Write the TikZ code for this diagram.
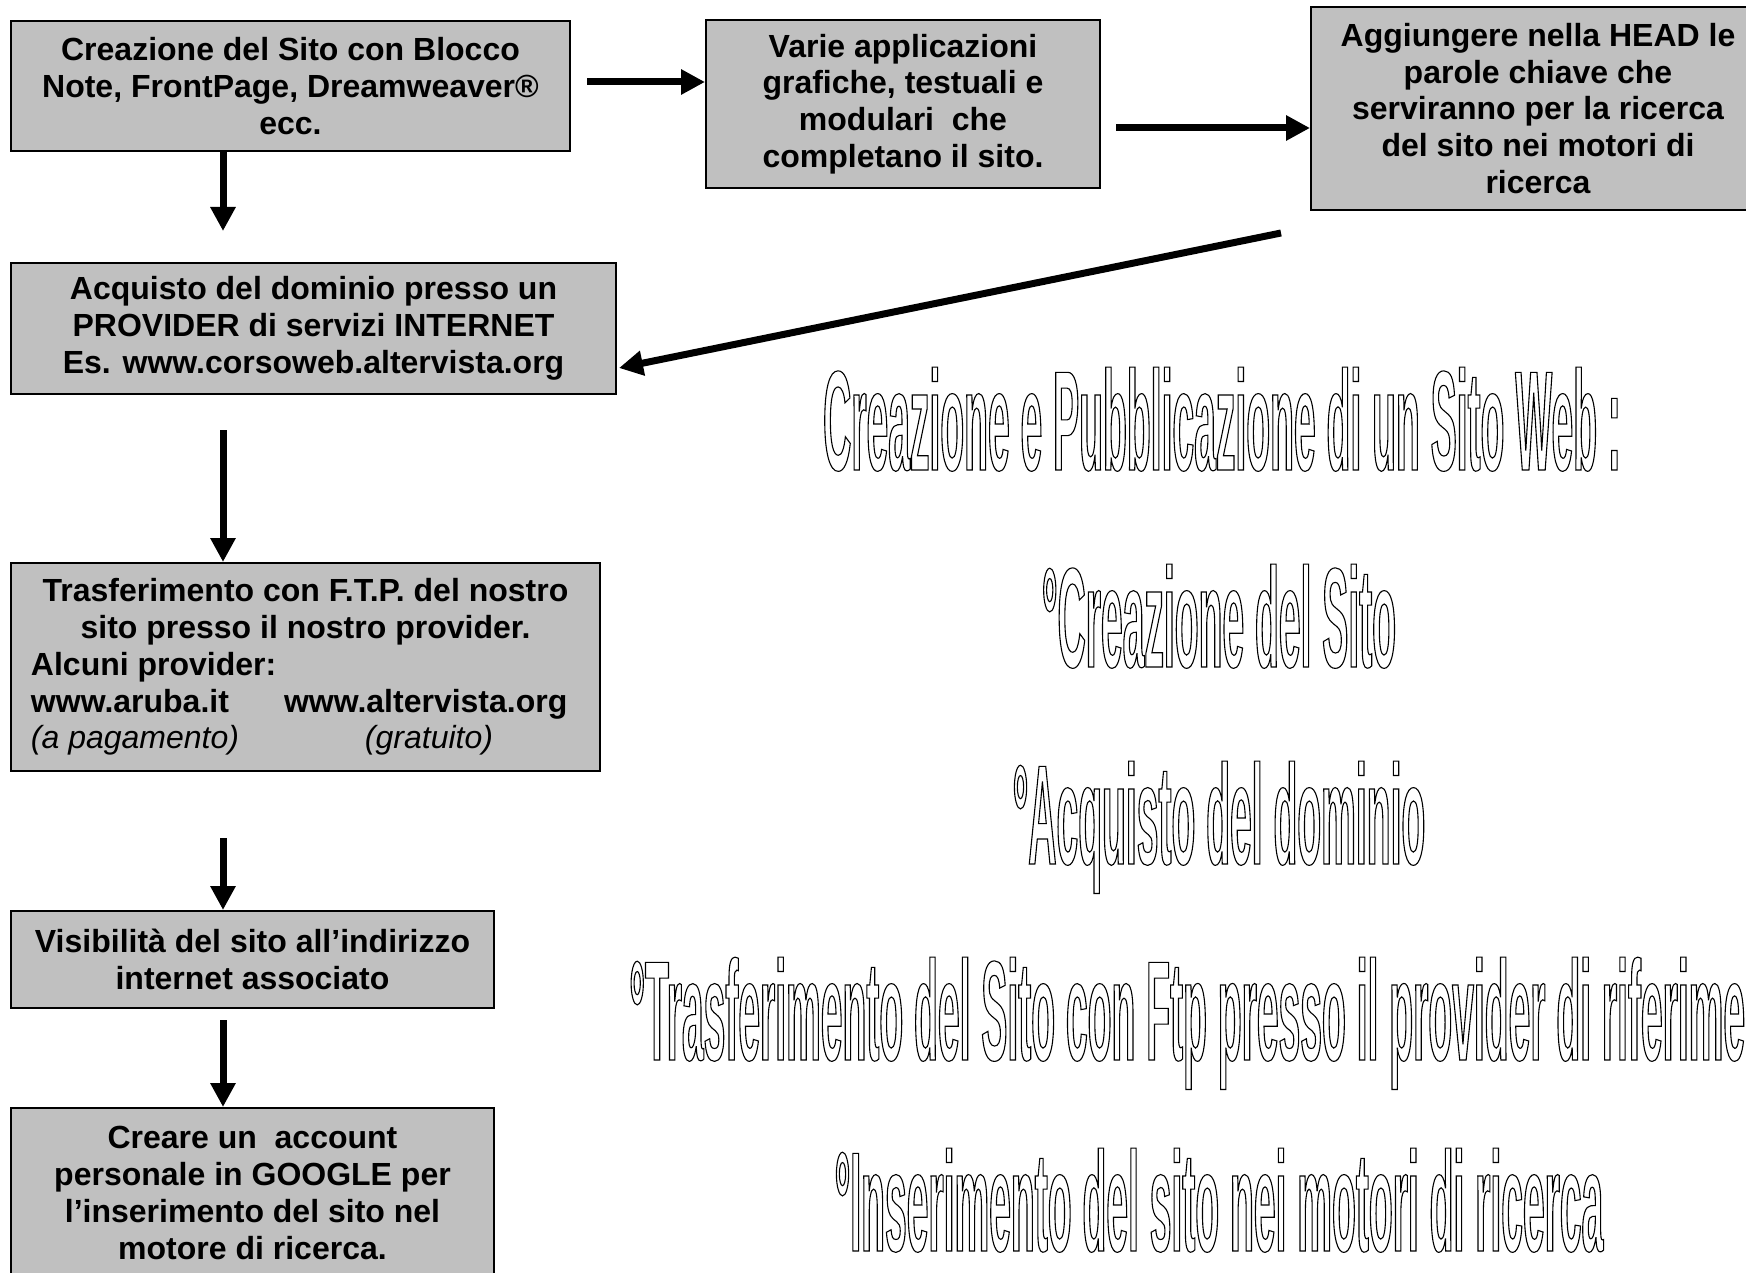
\documentclass[tikz,border=0pt]{standalone}
\usepackage{fontspec}
\setmainfont{Liberation Sans}
\newfontfamily\wordartfont[FakeStretch=0.275]{Liberation Sans}
\usetikzlibrary{arrows.meta}

\definecolor{boxgray}{RGB}{192,192,192}
% outline text (stroke only)
\newcommand{\outlinetext}[1]{\special{pdf:literal direct 1 Tr 0.55 w}#1\special{pdf:literal direct 0 Tr}}

\tikzset{
  stepbox/.style={draw=black, line width=1pt, fill=boxgray, align=center,
    inner sep=0pt, font=\bfseries\fontsize{16}{18.4}\selectfont},
  flow/.style={line width=3.5pt, -{Triangle[length=12pt,width=12pt]}},
  wordart/.style={inner sep=0pt, anchor=base, font=\wordartfont\bfseries\fontsize{71}{75}\selectfont}
}

\begin{document}
\begin{tikzpicture}[x=0.5pt,y=-0.5pt]
        \useasboundingbox (0,0) rectangle (1746,1273);
        % boxes
        \node [stepbox, minimum width=279.5pt, minimum height=65pt] (sito) at (290.5,86)
              {Creazione del Sito con Blocco\\Note, FrontPage, Dreamweaver®\\ecc.};
        \node [stepbox, minimum width=197pt, minimum height=84pt] (appl) at (903,104)
              {Varie applicazioni\\grafiche, testuali e\\modulari\ \ che\\completano il sito.};
        \node [stepbox, minimum width=227pt, minimum height=101.5pt] (head) at (1538,108.5)
              {Aggiungere nella HEAD le\\parole chiave che\\serviranno per la ricerca\\del sito nei motori di\\ricerca};
        \node [stepbox, minimum width=302.5pt, minimum height=65.5pt] (dominio) at (313.5,328.5)
              {Acquisto del dominio presso un\\PROVIDER di servizi INTERNET\\Es. www.corsoweb.altervista.org};
        \node [stepbox, minimum width=294.5pt, minimum height=104pt] (ftp) at (305.5,667)
              {\parbox{274.5pt}{\centering Trasferimento con F.T.P. del nostro\\sito presso il nostro provider.\\
               \raggedright Alcuni provider:\\
               \makebox[126.5pt][l]{www.aruba.it}www.altervista.org\\
               \mdseries\itshape\makebox[167pt][l]{(a pagamento)}(gratuito)}};
        \node [stepbox, minimum width=241.5pt, minimum height=48.5pt] (visib) at (252.5,959.5)
              {Visibilità del sito all’indirizzo\\internet associato};
        \node [stepbox, minimum width=241.5pt, minimum height=85pt] (google) at (252.5,1193)
              {Creare un\ \ account\\personale in GOOGLE per\\l’inserimento del sito nel\\motore di ricerca.};
        % arrows
        \draw [flow] ([xshift=8pt,yshift=2pt]sito.east) -- ([yshift=11pt]appl.west);
        \draw [flow] ([xshift=7.5pt,yshift=-12pt]appl.east) -- ([yshift=-9.75pt]head.west);
        \draw [flow] ([shift={(-128.5pt,-11pt)}]head.south) -- ([shift={(1pt,-19.75pt)}]dominio.east);
        \draw [flow] ([xshift=-33.75pt]sito.south) -- ([xshift=-45.25pt,yshift=15.5pt]dominio.north);
        \draw [flow] ([shift={(-45.25pt,-17.5pt)}]dominio.south) -- ([xshift=-41.25pt]ftp.north);
        \draw [flow] ([shift={(-41.25pt,-33pt)}]ftp.south) -- ([xshift=-14.75pt]visib.north);
        \draw [flow] ([shift={(-14.75pt,-5.5pt)}]visib.south) -- ([xshift=-14.75pt]google.north);
        % outlined titles
        \node [wordart] (titolo) at (1222,470)
              {\outlinetext{Creazione e Pubblicazione di un Sito Web :}};
        \node [wordart] (fase1) at (1219,667)
              {\outlinetext{°Creazione del Sito}};
        \node [wordart] (fase2) at (1219,864)
              {\outlinetext{°Acquisto del dominio}};
        \node [wordart, anchor=base west] (fase3) at (629,1060)
              {\outlinetext{°Trasferimento del Sito con Ftp presso il provider di riferimento}};
        \node [wordart] (fase4) at (1219,1251)
              {\outlinetext{°Inserimento del sito nei motori di ricerca}};
\end{tikzpicture}
\end{document}
